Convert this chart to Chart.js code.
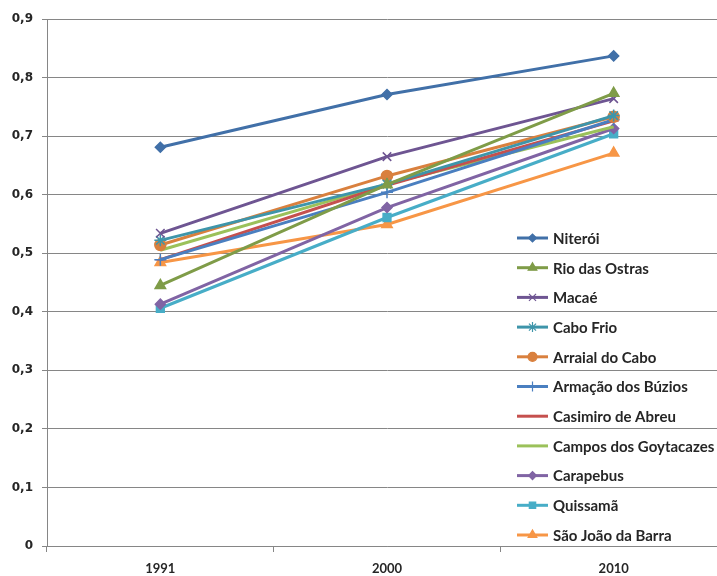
<!DOCTYPE html>
<html>
<head>
<meta charset="utf-8">
<script src="https://cdn.jsdelivr.net/npm/chart.js@4"></script>
<style>
  html, body { margin: 0; padding: 0; background: #fff; overflow: hidden; }
  .box { width: 740px; height: 576px; }
</style>
</head>
<body>
<div class="box"><canvas id="myChart" width="740" height="576"></canvas></div>
<script>
// anos e valores do IDHM por município
const years = ['1991', '2000', '2010'];
const yTicks = [0, 0.1, 0.2, 0.3, 0.4, 0.5, 0.6, 0.7, 0.8, 0.9];

const niteroi = [0.681, 0.771, 0.837];
const rioDasOstras = [0.445, 0.617, 0.773];
const macae = [0.534, 0.665, 0.764];
const caboFrio = [0.522, 0.618, 0.735];
const arraialDoCabo = [0.514, 0.632, 0.733];
const armacaoDosBuzios = [0.489, 0.604, 0.728];
const casimiroDeAbreu = [0.489, 0.616, 0.726];
const camposDosGoytacazes = [0.505, 0.618, 0.716];
const carapebus = [0.413, 0.578, 0.713];
const quissama = [0.406, 0.561, 0.704];
const saoJoaoDaBarra = [0.484, 0.549, 0.671];

const ctx = document.getElementById('myChart').getContext('2d');

const serie = (label, values, color, style, radius) => ({
  label: label,
  data: values,
  borderColor: color,
  backgroundColor: color,
  borderWidth: 3,
  pointStyle: style,
  pointRadius: radius,
  pointBorderWidth: 1.5,
  tension: 0
});

const data = {
  labels: years,
  datasets: [
    serie('Niterói', niteroi, '#4170A8', 'rectRot', 5),
    serie('Rio das Ostras', rioDasOstras, '#7F9C48', 'triangle', 6),
    serie('Macaé', macae, '#6E5592', 'crossRot', 6),
    serie('Cabo Frio', caboFrio, '#3E95AA', 'star', 6),
    serie('Arraial do Cabo', arraialDoCabo, '#D9803E', 'circle', 5.5),
    serie('Armação dos Búzios', armacaoDosBuzios, '#4A7FC0', 'cross', 6),
    serie('Casimiro de Abreu', casimiroDeAbreu, '#C5504E', 'line', 5),
    serie('Campos dos Goytacazes', camposDosGoytacazes, '#9BC15A', 'line', 0),
    serie('Carapebus', carapebus, '#8064A4', 'rectRot', 5),
    serie('Quissamã', quissama, '#47ADC7', 'rect', 5.5),
    serie('São João da Barra', saoJoaoDaBarra, '#F79646', 'triangle', 6)
  ]
};

// legenda desenhada dentro da área do gráfico
const legendaDentro = {
  id: 'legendaDentro',
  afterDraw(chart) {
    const c = chart.ctx;
    const x0 = 517, x1 = 548, y0 = 238, step = 29.7;
    chart.data.datasets.forEach((ds, i) => {
      const y = y0 + i * step;
      c.save();
      c.strokeStyle = ds.borderColor;
      c.lineWidth = 3;
      c.beginPath();
      c.moveTo(x0, y);
      c.lineTo(x1, y);
      c.stroke();
      if (ds.pointRadius > 0) {
        c.fillStyle = ds.backgroundColor;
        c.strokeStyle = ds.borderColor;
        c.lineWidth = 1.2;
        Chart.helpers.drawPoint(c, {pointStyle: ds.pointStyle, radius: ds.pointRadius - 1, rotation: 0, borderWidth: 1.2}, (x0 + x1) / 2, y);
      }
      c.fillStyle = '#262626';
      c.font = 'bold 15px Lato';
      c.textBaseline = 'middle';
      c.textAlign = 'left';
      c.fillText(ds.label, 553, y + 1);
      c.restore();
    });
  }
};

const config = {
  type: 'line',
  data: data,
  options: {
    responsive: false,
    animation: false,
    layout: { padding: { top: 19, right: 13, left: 0, bottom: 0 } },
    plugins: { legend: { display: false }, tooltip: { enabled: false } },
    scales: {
      x: {
        offset: true,
        grid: { offset: true, drawOnChartArea: false, color: '#868686', tickLength: 6 },
        border: { color: '#868686' },
        ticks: { color: '#262626', font: { family: 'Lato', weight: 'bold', size: 13 }, padding: 9 },
        afterFit: s => { s.height = 30; }
      },
      y: {
        min: 0,
        max: 0.9,
        afterBuildTicks: s => { s.ticks = yTicks.map(v => ({ value: v })); },
        grid: { color: '#868686', tickLength: 5 },
        border: { color: '#868686' },
        ticks: {
          color: '#262626',
          font: { family: "'DejaVu Sans'", weight: 'bold', size: 12 },
          padding: 9,
          callback: v => v === 0 ? '0' : v.toFixed(1).replace('.', ',')
        },
        afterFit: s => { s.width = 47; }
      }
    }
  },
  plugins: [legendaDentro]
};

const myChart = new Chart(ctx, config);
</script>
</body>
</html>
